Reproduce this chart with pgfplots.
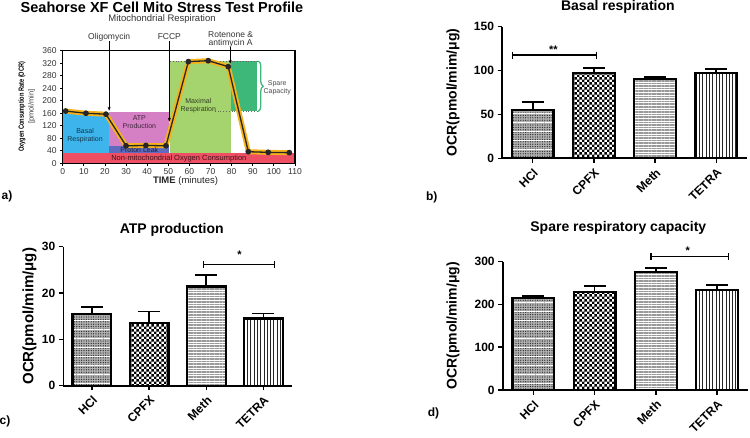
\documentclass[border=0pt]{standalone}
\usepackage{fontspec}
\setmainfont{Liberation Sans}
\usepackage{pgfplots}
\usepackage{pgfplotstable}
\pgfplotsset{compat=1.18}
\usetikzlibrary{patterns,patterns.meta,decorations.pathreplacing,arrows.meta}

\definecolor{nonmito}{HTML}{EF4F63}
\definecolor{basal}{HTML}{3DB5EC}
\definecolor{atp}{HTML}{D57FC4}
\definecolor{leak}{HTML}{5E6BBF}
\definecolor{maxr}{HTML}{A5D36E}
\definecolor{spare}{HTML}{3DB878}
\definecolor{ocrline}{HTML}{F6B21B}

% small checkerboard for the CPFX bars
\pgfdeclarepatternformonly{finecheck}{\pgfpointorigin}{\pgfpoint{5.4pt}{5.4pt}}{\pgfpoint{5.4pt}{5.4pt}}{%
  \pgfpathrectangle{\pgfpointorigin}{\pgfpoint{2.7pt}{2.7pt}}%
  \pgfpathrectangle{\pgfpoint{2.7pt}{2.7pt}}{\pgfpoint{2.7pt}{2.7pt}}%
  \pgfusepath{fill}}

% seahorse profile (time, OCR)
\pgfplotstableread{
t    ocr
1.4  167
11   160
20.5 157
30   56
39.4 57
48.9 56
59.5 325
68.9 328
78.4 309
87.9 37
97.3 35
107.3 34
}\ocrdata

\pgfplotsset{
  barpanel/.style={
    scale only axis, anchor=south west, clip=false,
    axis x line=bottom, axis y line=left,
    axis line style={-, line width=1.6pt},
    xmin=-0.5, xmax=3.5, ymin=0, enlargelimits=false,
    xtick={0,1,2,3}, xticklabels={HCl,CPFX,Meth,TETRA},
    xticklabel style={rotate=45, anchor=north east, font=\bfseries\fontsize{12}{12}\selectfont},
    yticklabel style={font=\bfseries\fontsize{12}{12}\selectfont},
    /pgf/number format/assume math mode=true,
    tick align=outside, major tick length=4.5pt,
    tick style={line width=1.5pt, black},
    ylabel={OCR(pmol/mim/μg)},
    ylabel style={font=\bfseries\fontsize{14}{14}\selectfont, anchor=south},
    every axis title shift=0pt,
    title style={font=\bfseries\fontsize{14}{14}\selectfont, anchor=center},
    ybar, bar width=0.68,
  },
  errs/.style={error bars/y dir=plus, error bars/y explicit,
    error bars/error bar style={line width=1.8pt, black},
    error bars/error mark options={rotate=90, mark size=11pt, line width=1.8pt, black}},
  hcl/.style={bar shift=0pt, draw=black, line width=2.2pt, fill=gray!60,
    postaction={pattern={Dots[distance=2.4pt, radius=0.7pt]}, pattern color=black!80},
    postaction={pattern={Lines[angle=0, distance=9pt, line width=0.6pt]}, pattern color=white},
    errs},
  cpfx/.style={bar shift=0pt, draw=black, line width=2.2pt, fill=white,
    postaction={pattern=finecheck, pattern color=black}, errs},
  meth/.style={bar shift=0pt, draw=black, line width=2.2pt, fill=white,
    postaction={pattern={Lines[angle=0, distance=2.6pt, line width=1.5pt]}, pattern color=gray!80}, errs},
  tetra/.style={bar shift=0pt, draw=black, line width=2.2pt, fill=white,
    postaction={pattern={Lines[angle=90, distance=3.3pt, line width=0.9pt]}, pattern color=black!85}, errs},
  sig/.style={sharp plot, black, line width=1.3pt, mark=|, mark size=3.5pt,
    mark options={line width=1.3pt}, forget plot},
}

\begin{document}
\begin{tikzpicture}
\useasboundingbox (0,0) rectangle (750pt,437pt);

% ---------- a) Seahorse profile ----------
\node[font=\bfseries\fontsize{14.5}{14.5}\selectfont] at (162pt,430pt) {Seahorse XF Cell Mito Stress Test Profile};
\node[font=\fontsize{9.5}{9.5}\selectfont, text=black!80] at (162pt,418.3pt) {Mitochondrial Respiration};
\node[rotate=90, font=\bfseries\fontsize{7.5}{7.5}\selectfont] at (22pt,330.3pt) {\scalebox{0.75}[1]{Oxygen Consumption Rate (OCR)}};
\node[rotate=90, font=\fontsize{7.5}{7.5}\selectfont, text=black!75] at (31.7pt,330.3pt) {[pmol/min]};
\node[font=\fontsize{9.5}{9.5}\selectfont, text=black!85] at (185.5pt,256pt) {\textbf{TIME} (minutes)};

\begin{axis}[scale only axis, anchor=south west, at={(62.7pt,273.7pt)},
  width=232.3pt, height=112.6pt,
  xmin=0, xmax=110, ymin=0, ymax=360,
  xtick={0,10,...,110}, ytick={0,40,...,360},
  axis on top, clip=false,
  tick align=outside, xtick pos=bottom, ytick pos=left,
  major tick length=2.5pt, tick style={line width=0.8pt, black},
  axis line style={line width=1.1pt},
  ticklabel style={font=\fontsize{8.5}{8.5}\selectfont, text=black!80},
  xticklabel style={yshift=1pt},
  /pgf/number format/assume math mode=true,
]
\addplot[fill=nonmito, draw=none] coordinates {(0,0) (110,0) (110,33) (0,33)} -- cycle;
\addplot[fill=basal, draw=none] coordinates {(0,33) (22.1,33) (22.1,160) (0,160)} -- cycle;
\addplot[fill=leak, draw=none] coordinates {(22.1,33) (50.5,33) (50.5,55) (22.1,55)} -- cycle;
\addplot[fill=atp, draw=none] coordinates {(22.1,55) (50.5,55) (50.5,165) (22.1,165)} -- cycle;
\addplot[fill=maxr, draw=none] coordinates {(50.8,33) (79.7,33) (79.7,327) (50.8,327)} -- cycle;
\addplot[fill=spare, draw=none] coordinates {(79.7,166) (92,166) (92,327) (79.7,327)} -- cycle;
\addplot[dotted, black!60, line width=0.8pt] coordinates {(50.8,327) (92,327)};
\addplot[dotted, black!60, line width=0.8pt] coordinates {(72,166) (92,166)};
\draw[decorate, decoration={brace, amplitude=5pt}, line width=1.3pt, spare]
  (axis cs:92.6,327) -- (axis cs:92.6,166);

\addplot[ocrline, line width=5pt, line join=round, line cap=round] table[x=t, y=ocr] {\ocrdata};
\addplot[black!85, line width=1.3pt, mark=*, mark size=2.2pt] table[x=t, y=ocr] {\ocrdata};

\node[font=\fontsize{7.5}{7.5}\selectfont, text=black!75!nonmito] at (axis cs:55,16) {Non-mitochondrial Oxygen Consumption};
\node[font=\fontsize{7}{8}\selectfont, align=center, text=black!70!basal] at (axis cs:10.6,87) {Basal\\Respiration};
\node[font=\fontsize{7}{8}\selectfont, align=center, text=black!70!atp] at (axis cs:36.3,133) {ATP\\Production};
\node[font=\fontsize{7}{7}\selectfont, text=black!70!leak] at (axis cs:36.3,43) {Proton Leak};
\node[font=\fontsize{7}{8}\selectfont, align=center, text=black!70!maxr] at (axis cs:64.2,183) {Maximal\\Respiration};
\node[font=\fontsize{7}{8}\selectfont, align=center, text=black!70] at (axis cs:101.6,243) {Spare\\Capacity};

\node[font=\fontsize{8.5}{8.5}\selectfont, text=black!80] at (axis cs:22,404) {Oligomycin};
\draw[-{Stealth[length=4pt]}, line width=0.9pt] (axis cs:22,390) -- (axis cs:22,168);
\node[font=\fontsize{8.5}{8.5}\selectfont, text=black!80] at (axis cs:50.5,404) {FCCP};
\draw[-{Stealth[length=4pt]}, line width=0.9pt] (axis cs:50.5,390) -- (axis cs:50.5,133);
\node[font=\fontsize{8.5}{8}\selectfont, align=center, text=black!80] at (axis cs:79.5,396) {Rotenone \&\\antimycin A};
\draw[-{Stealth[length=4pt]}, line width=0.9pt] (axis cs:79.3,372) -- (axis cs:79.3,318);
\end{axis}

% ---------- b) Basal respiration ----------
\begin{axis}[barpanel, at={(502pt,278.7pt)}, width=245pt, height=131.6pt,
  ymax=150, ytick={0,50,100,150},
  title={Basal respiration}, title style={at={(axis description cs:0.473,1.15)}},
  ylabel style={at={(axis description cs:-0.159,0.5)}}]
\addplot[hcl] coordinates {(0,55.0) +- (0,8.8)};
\addplot[cpfx] coordinates {(1,97.6) +- (0,5.7)};
\addplot[meth] coordinates {(2,90.0) +- (0,3.0)};
\addplot[tetra] coordinates {(3,96.9) +- (0,4.5)};
\addplot[sig] coordinates {(-0.33,117.7) (1.04,117.7)};
\node[font=\bfseries\fontsize{11}{11}\selectfont] at (axis cs:0.34,124) {**};
\end{axis}

% ---------- c) ATP production ----------
\begin{axis}[barpanel, at={(63.3pt,51.3pt)}, width=228.8pt, height=139pt,
  ymax=30, ytick={0,10,20,30},
  title={ATP production}, title style={at={(axis description cs:0.474,1.12)}},
  ylabel style={at={(axis description cs:-0.102,0.5)}, font=\bfseries\fontsize{15}{15}\selectfont}]
\addplot[hcl] coordinates {(0,15.5) +- (0,1.5)};
\addplot[cpfx] coordinates {(1,13.6) +- (0,2.4)};
\addplot[meth] coordinates {(2,21.4) +- (0,2.5)};
\addplot[tetra] coordinates {(3,14.5) +- (0,1.1)};
\addplot[sig] coordinates {(1.95,26.2) (3.19,26.2)};
\node[font=\bfseries\fontsize{11}{11}\selectfont] at (axis cs:2.58,28.3) {*};
\end{axis}

% ---------- d) Spare respiratory capacity ----------
\begin{axis}[barpanel, at={(502.7pt,47pt)}, width=245pt, height=128.3pt,
  ymax=300, ytick={0,100,200,300},
  title={Spare respiratory capacity}, title style={at={(axis description cs:0.472,1.26)}},
  ylabel style={at={(axis description cs:-0.162,0.5)}}]
\addplot[hcl] coordinates {(0,215.8) +- (0,3.9)};
\addplot[cpfx] coordinates {(1,228.4) +- (0,15.5)};
\addplot[meth] coordinates {(2,275.1) +- (0,10.1)};
\addplot[tetra] coordinates {(3,233.0) +- (0,13.0)};
\addplot[sig] coordinates {(1.92,311.6) (3.19,311.6)};
\node[font=\bfseries\fontsize{11}{11}\selectfont] at (axis cs:2.52,326) {*};
\end{axis}

% panel letters
\node[font=\bfseries\fontsize{12}{12}\selectfont] at (7pt,241pt) {a)};
\node[font=\bfseries\fontsize{12}{12}\selectfont] at (431.7pt,239.5pt) {b)};
\node[font=\bfseries\fontsize{12}{12}\selectfont] at (5pt,16pt) {c)};
\node[font=\bfseries\fontsize{12}{12}\selectfont] at (433.5pt,24pt) {d)};
\end{tikzpicture}
\end{document}
